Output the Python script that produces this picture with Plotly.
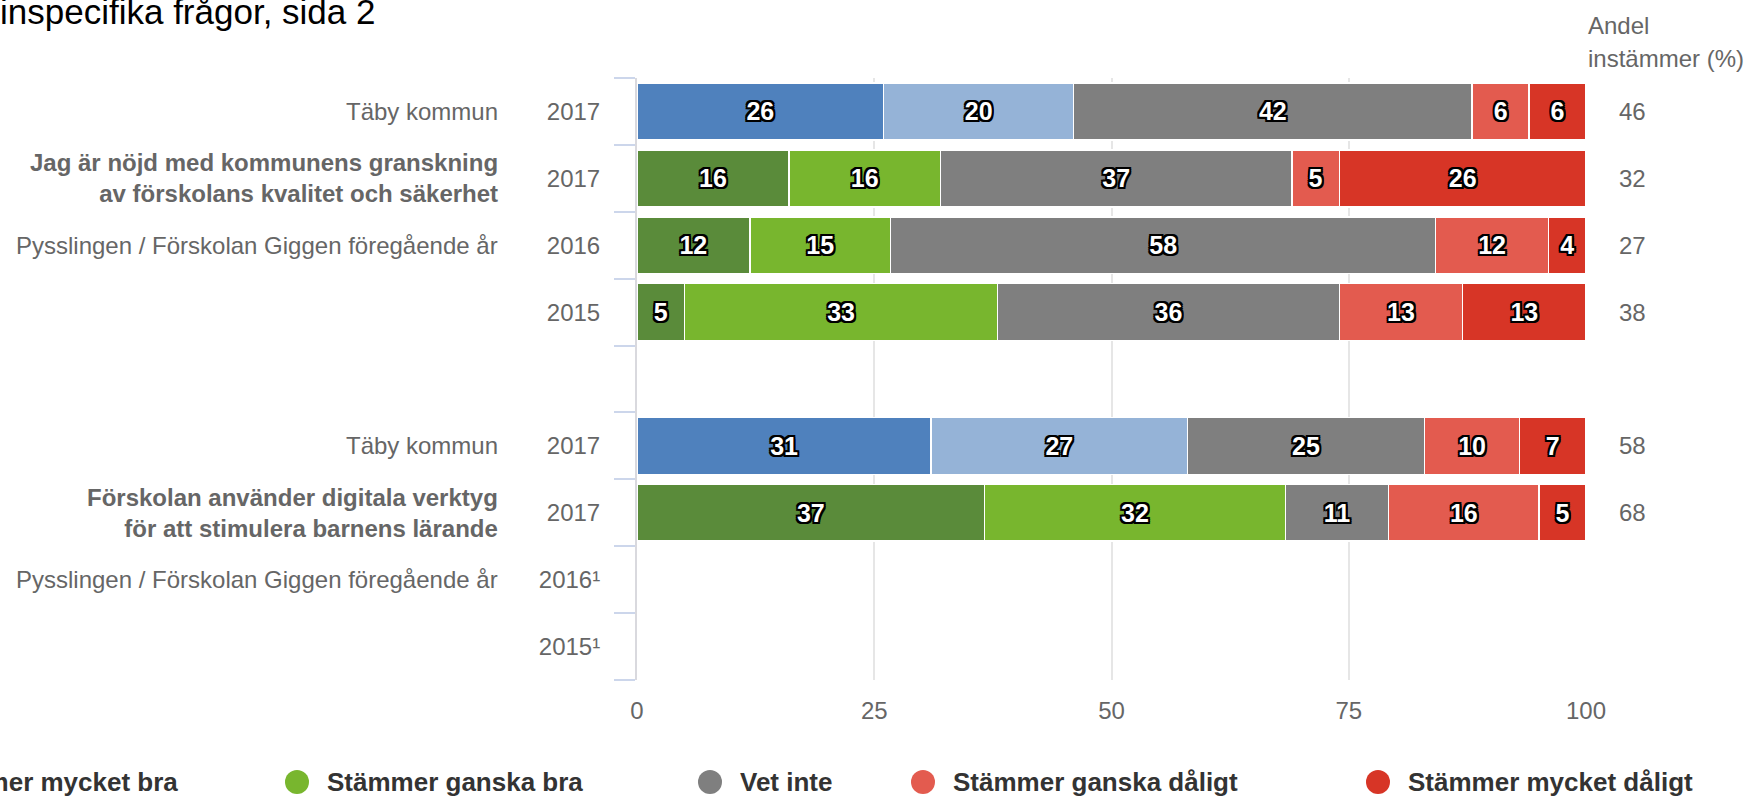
import plotly.graph_objects as go

# ---------------- data ----------------
row_years = ["2017", "2017", "2016", "2015", "", "2017", "2017", "2016¹", "2015¹"]
is_kommun = [True, False, False, False, False, True, False, False, False]

mycket_bra = [26, 16, 12, 5, None, 31, 37, None, None]
ganska_bra = [20, 16, 15, 33, None, 27, 32, None, None]
vet_inte = [42, 37, 58, 36, None, 25, 11, None, None]
ganska_daligt = [6, 5, 12, 13, None, 10, 16, None, None]
mycket_daligt = [6, 26, 4, 13, None, 7, 5, None, None]
andel_instammer = [46, 32, 27, 38, None, 58, 68, None, None]

group_labels = [
    (0, "Täby kommun", False),
    (1, "Jag är nöjd med kommunens granskning<br>av förskolans kvalitet och säkerhet", True),
    (2, "Pysslingen / Förskolan Giggen föregående år", False),
    (5, "Täby kommun", False),
    (6, "Förskolan använder digitala verktyg<br>för att stimulera barnens lärande", True),
    (7, "Pysslingen / Förskolan Giggen föregående år", False),
]

series_names = ["Stämmer mycket bra", "Stämmer ganska bra", "Vet inte",
                "Stämmer ganska dåligt", "Stämmer mycket dåligt"]
x_ticks = [0, 25, 50, 75, 100]
title_text = "inspecifika frågor, sida 2"

# ---------------- style ----------------
FONT = "Liberation Sans, Arial, sans-serif"
C_BLUE, C_LBLUE = "#4f81bd", "#95b3d7"
C_DGREEN, C_LGREEN = "#5a8b3a", "#78b62e"
C_GRAY, C_LRED, C_RED = "#7f7f7f", "#e35b4f", "#d73526"

W, H = 1759, 796
L, R, T, B = 637, 1586, 78, 680  # plot area in pixels


def px_x(p):
    return (p - L) / (R - L)


def px_y(p):
    return (B - p) / (B - T)


o = 2
outline = ", ".join(f"{dx}px {dy}px 0 #000" for dx, dy in
                    [(-o, -o), (o, -o), (-o, o), (o, o), (0, o), (0, -o), (o, 0), (-o, 0)])

rows = list(range(len(row_years)))
series_vals = [mycket_bra, ganska_bra, vet_inte, ganska_daligt, mycket_daligt]
series_colors = [
    [C_BLUE if k else C_DGREEN for k in is_kommun],
    [C_LBLUE if k else C_LGREEN for k in is_kommun],
    C_GRAY, C_LRED, C_RED,
]

fig = go.Figure()
for name, vals, col in zip(series_names, series_vals, series_colors):
    fig.add_trace(go.Bar(
        y=rows, x=vals, orientation="h", name=name,
        marker=dict(color=col, line=dict(color="white", width=1.5)),
        text=[("" if v is None else str(v)) for v in vals],
        texttemplate="%{text}", textposition="inside",
        insidetextanchor="middle", textangle=0,
        textfont=dict(family=FONT, size=25, color="white", weight="bold",
                      shadow=outline),
        showlegend=False, hoverinfo="skip",
    ))

annotations = []
# group labels to the left
for r, txt, bold in group_labels:
    annotations.append(dict(
        xref="paper", yref="y", x=px_x(500), y=r, xanchor="right", yanchor="middle",
        text=(f"<b>{txt}</b>" if bold else txt), showarrow=False, align="right",
        font=dict(family=FONT, size=24, color="#666666")))
# agreement values on the right
for r, v in zip(rows, andel_instammer):
    if v is not None:
        annotations.append(dict(
            xref="paper", yref="y", x=px_x(1632), y=r, xanchor="center",
            yanchor="middle", text=str(v), showarrow=False,
            font=dict(family=FONT, size=24, color="#666666")))
annotations.append(dict(xref="paper", yref="paper", x=px_x(1586), y=px_y(25),
                        xanchor="left", yanchor="middle", text="Andel", showarrow=False,
                        font=dict(family=FONT, size=24, color="#666666")))
annotations.append(dict(xref="paper", yref="paper", x=px_x(1586), y=px_y(58),
                        xanchor="left", yanchor="middle", text="instämmer (%)",
                        showarrow=False, font=dict(family=FONT, size=24, color="#666666")))
# title (cut at the edges as in the source)
annotations.append(dict(xref="paper", yref="paper", x=px_x(-2), y=px_y(11),
                        xanchor="left", yanchor="middle", text=title_text, showarrow=False,
                        font=dict(family=FONT, size=35, color="#000000")))

# legend (drawn manually so the positions match)
legend_colors = [C_DGREEN, C_LGREEN, C_GRAY, C_LRED, C_RED]
legend_marker_px = [-108, 297, 710, 923, 1378]
shapes = []
for name, col, mx in zip(series_names, legend_colors, legend_marker_px):
    shapes.append(dict(type="circle", xref="paper", yref="paper",
                       xsizemode="pixel", ysizemode="pixel",
                       xanchor=px_x(mx), yanchor=px_y(782),
                       x0=-12, x1=12, y0=-12, y1=12,
                       fillcolor=col, line=dict(width=0)))
    annotations.append(dict(xref="paper", yref="paper", x=px_x(mx + 28), y=px_y(782),
                            xanchor="left", yanchor="middle", text=f"<b>{name}</b>",
                            showarrow=False, font=dict(family=FONT, size=26, color="#333333")))

fig.update_layout(
    width=W, height=H,
    margin=dict(l=L, r=W - R, t=T, b=H - B, pad=0),
    barmode="stack", barnorm="percent", bargap=0.15,
    plot_bgcolor="white", paper_bgcolor="white",
    font=dict(family=FONT, size=24, color="#666666"),
    annotations=annotations, shapes=shapes,
    xaxis=dict(range=[0, 100], tickmode="array", tickvals=x_ticks,
               ticktext=[str(t) for t in x_ticks],
               showgrid=True, gridcolor="#e6e6e6", gridwidth=2,
               zeroline=False, showline=False, ticks="",
               tickfont=dict(family=FONT, size=24, color="#666666"),
               ticklabelstandoff=14, fixedrange=True),
    yaxis=dict(range=[len(rows) - 0.5, -0.5], tickmode="array", tickvals=rows,
               ticktext=row_years, showgrid=False, zeroline=False,
               showline=True, linecolor="#d9d9de", linewidth=2, ticks="",
               ticklabelstandoff=30,
               tickfont=dict(family=FONT, size=24, color="#666666"),
               minor=dict(tickmode="array",
                          tickvals=[r - 0.5 for r in rows] + [rows[-1] + 0.5],
                          ticks="outside", ticklen=21, tickwidth=2,
                          tickcolor="#ccd6eb", showgrid=False),
               fixedrange=True),
)

fig.write_html("out.html", config={"displayModeBar": False},
               post_script="document.body.style.margin='0';document.body.style.overflow='hidden';")
